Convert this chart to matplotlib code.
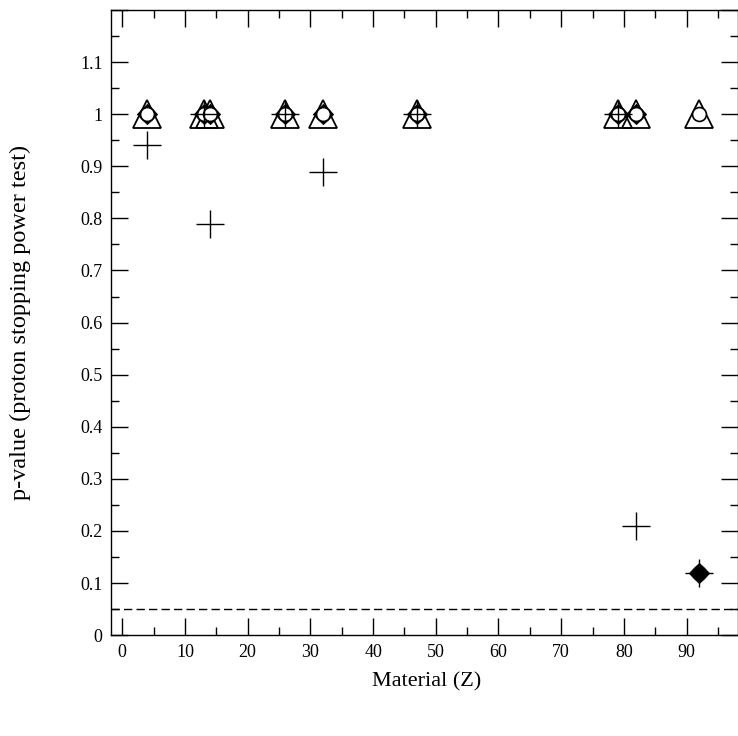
import matplotlib
matplotlib.use("Agg")
import matplotlib.pyplot as plt
from matplotlib.path import Path
from matplotlib.ticker import MultipleLocator, FuncFormatter

plt.rcParams['font.family'] = ['Liberation Serif', 'DejaVu Serif']

# atomic number of each tested material
z_all = [4, 13, 14, 26, 32, 47, 79, 82, 92]

# p-values per model
p_triangle = [1, 1, 1, 1, 1, 1, 1, 1, 1]
p_circle = [1, 1, 1, 1, 1, 1, 1, 1, 1]
z_diamond = [4, 13, 14, 26, 32, 47, 79, 82, 92]
p_diamond = [1, 1, 1, 1, 1, 1, 1, 1, 0.12]
p_cross = [0.94, 1, 0.79, 1, 0.89, 1, 1, 0.21, 0.12]

threshold = 0.05

# slightly concave four-point diamond, like the ROOT filled marker
k = 0.52
star = Path([(0, 1), (k, k), (1, 0), (k, -k), (0, -1), (-k, -k), (-1, 0), (-k, k), (0, 1)],
            [Path.MOVETO] + [Path.LINETO] * 7 + [Path.CLOSEPOLY])

fig = plt.figure(figsize=(7.38, 7.36), dpi=100)
ax = fig.add_axes([0.1504, 0.137, 0.8496, 0.8494])

ax.axhline(threshold, color='black', lw=1.0, ls=(0, (6, 3)), zorder=1)

ax.plot(z_all, p_triangle, ls='none', marker='^', ms=19.5, mfc='none', mec='black', mew=1.3, zorder=2)
ax.plot(z_diamond, p_diamond, ls='none', marker=star, ms=14.5, mfc='black', mec='black', mew=0.6, zorder=3)
ax.plot(z_all, p_circle, ls='none', marker='o', ms=10, mfc='white', mec='black', mew=1.2, zorder=4)
ax.plot(z_all, p_cross, ls='none', marker='+', ms=19.5, mec='black', mew=1.0, zorder=5)

ax.set_xlim(-1.8, 98.2)
ax.set_ylim(0, 1.2)

ax.xaxis.set_major_locator(MultipleLocator(10))
ax.xaxis.set_minor_locator(MultipleLocator(5))
ax.yaxis.set_major_locator(MultipleLocator(0.1))
ax.yaxis.set_minor_locator(MultipleLocator(0.05))

def fmt_y(v, pos):
    if v > 1.15:
        return ''
    s = '%.1f' % v
    if s.endswith('.0'):
        s = s[:-2]
    return s

ax.yaxis.set_major_formatter(FuncFormatter(fmt_y))
ax.xaxis.set_major_formatter(FuncFormatter(lambda v, p: '%d' % v if v <= 90 else ''))

ax.tick_params(which='both', direction='in', top=True, right=True, width=1.0, labelsize=13, color='black')
ax.tick_params(which='major', length=12.5)
ax.tick_params(which='minor', length=6)
ax.tick_params(axis='x', pad=6)
ax.tick_params(axis='y', pad=6)

for sp in ax.spines.values():
    sp.set_linewidth(1.0)

fig.text(0.5786, 0.073, 'Material (Z)', ha='center', va='center', fontsize=16)
fig.text(0.027, 0.5625, 'p-value (proton stopping power test)', ha='center', va='center',
         rotation=90, fontsize=17.5)

fig.savefig('out.png', dpi=100)
